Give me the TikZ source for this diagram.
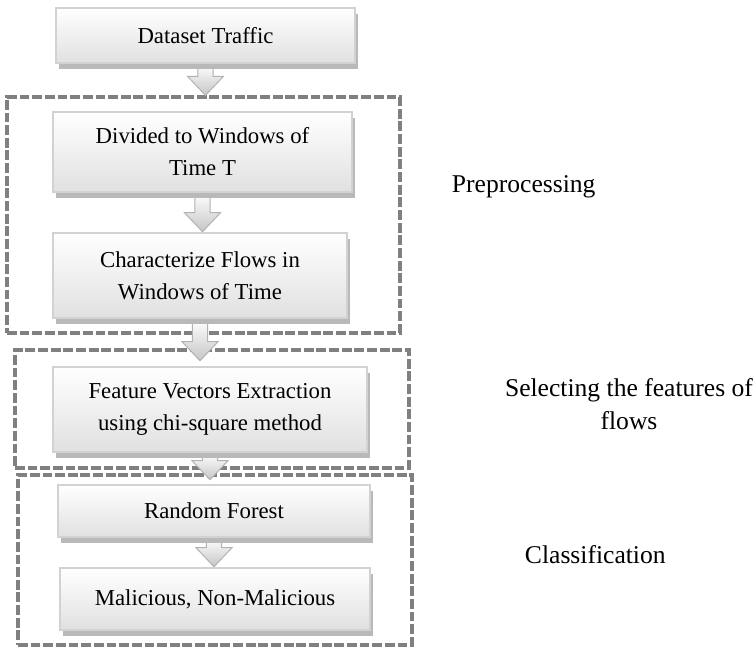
\documentclass[tikz,border=0pt]{standalone}
\usepackage{fontspec}
\setmainfont{Liberation Serif}
\usetikzlibrary{calc,shadows}

\pgfdeclarelayer{groups}
\pgfdeclarelayer{arrows}
\pgfsetlayers{groups,arrows,main}

%% hollow block arrow from one node anchor down to another (optional gap above the tip)
\newcommand{\blockarr}[3][0pt]{%
  \begin{pgfonlayer}{arrows}
  \draw[blockarrow] let \p1=(#2), \p2=(#3) in
    (\x1-0.19cm,\y1) -- (\x1+0.19cm,\y1) -- (\x1+0.19cm,\y2+#1+0.475cm)
    -- (\x1+0.45cm,\y2+#1+0.475cm) -- (\x1,\y2+#1)
    -- (\x1-0.45cm,\y2+#1+0.475cm) -- (\x1-0.19cm,\y2+#1+0.475cm) -- cycle;
  \end{pgfonlayer}}

\begin{document}
\begin{tikzpicture}[
    proc/.style={rectangle, draw=gray!35, line width=1.8pt, top color=white, bottom color=gray!24,
      drop shadow={shadow xshift=0.075cm, shadow yshift=-0.15cm, fill=gray!55, opacity=1},
      align=center, text=black, font={\fontsize{16.2}{22.8}\selectfont}},
    group/.style={draw=gray, line width=2.4pt, dash pattern=on 7pt off 2pt},
    blockarrow/.style={draw=gray!60, line width=0.7pt, top color=white, bottom color=gray!45},
    lbl/.style={align=center, text=black, font={\fontsize{18.2}{23.5}\selectfont}}
  ]
  \useasboundingbox (0,0) rectangle (18.9,16.225);

  %% ---- Dashed stage groups ----
  \begin{pgfonlayer}{groups}
    \node[group, minimum width=9.825cm, minimum height=5.9cm]  (prep)    at (5.0875,10.85) {};
    \node[group, minimum width=9.85cm,  minimum height=2.95cm] (select)  at (5.3,6.0)      {};
    \node[group, minimum width=9.85cm,  minimum height=4.25cm] (classif) at (5.375,2.225)  {};
  \end{pgfonlayer}

  %% ---- Process boxes ----
  \node[proc, minimum width=7.475cm, minimum height=1.375cm] (data)    at (5.1375,15.3375) {Dataset Traffic};
  \node[proc, minimum width=7.475cm, minimum height=2.0cm]   (divided) at (5.0625,12.425)  {Divided to Windows of\\Time T};
  \node[proc, minimum width=7.35cm,  minimum height=2.125cm] (charact) at (5.0,9.3375)    {Characterize Flows in\\Windows of Time};
  \node[proc, minimum width=7.85cm,  minimum height=2.125cm] (feature) at (5.25,5.9875)   {Feature Vectors Extraction\\using chi-square method};
  \node[proc, minimum width=7.8cm,   minimum height=1.3cm]   (forest)  at (5.35,3.45)     {Random Forest};
  \node[proc, minimum width=7.75cm,  minimum height=1.55cm]  (malic)   at (5.375,1.25)    {Malicious, Non-Malicious};

  %% ---- Block arrows ----
  \blockarr{data.south}{prep.north}
  \blockarr{divided.south}{charact.north}
  \blockarr[0.125cm]{charact.south}{feature.north}
  \blockarr[0.1cm]{feature.south}{forest.north}
  \blockarr{forest.south}{malic.north}

  %% ---- Stage labels ----
  \node[lbl, anchor=west] (preplbl)   at (11.175,11.55) {Preprocessing};
  \node[lbl]              (selectlbl) at (15.725,6.1125) {Selecting the features of\\flows};
  \node[lbl, anchor=west] (classlbl)  at (13.0,2.35)    {Classification};

\end{tikzpicture}
\end{document}
